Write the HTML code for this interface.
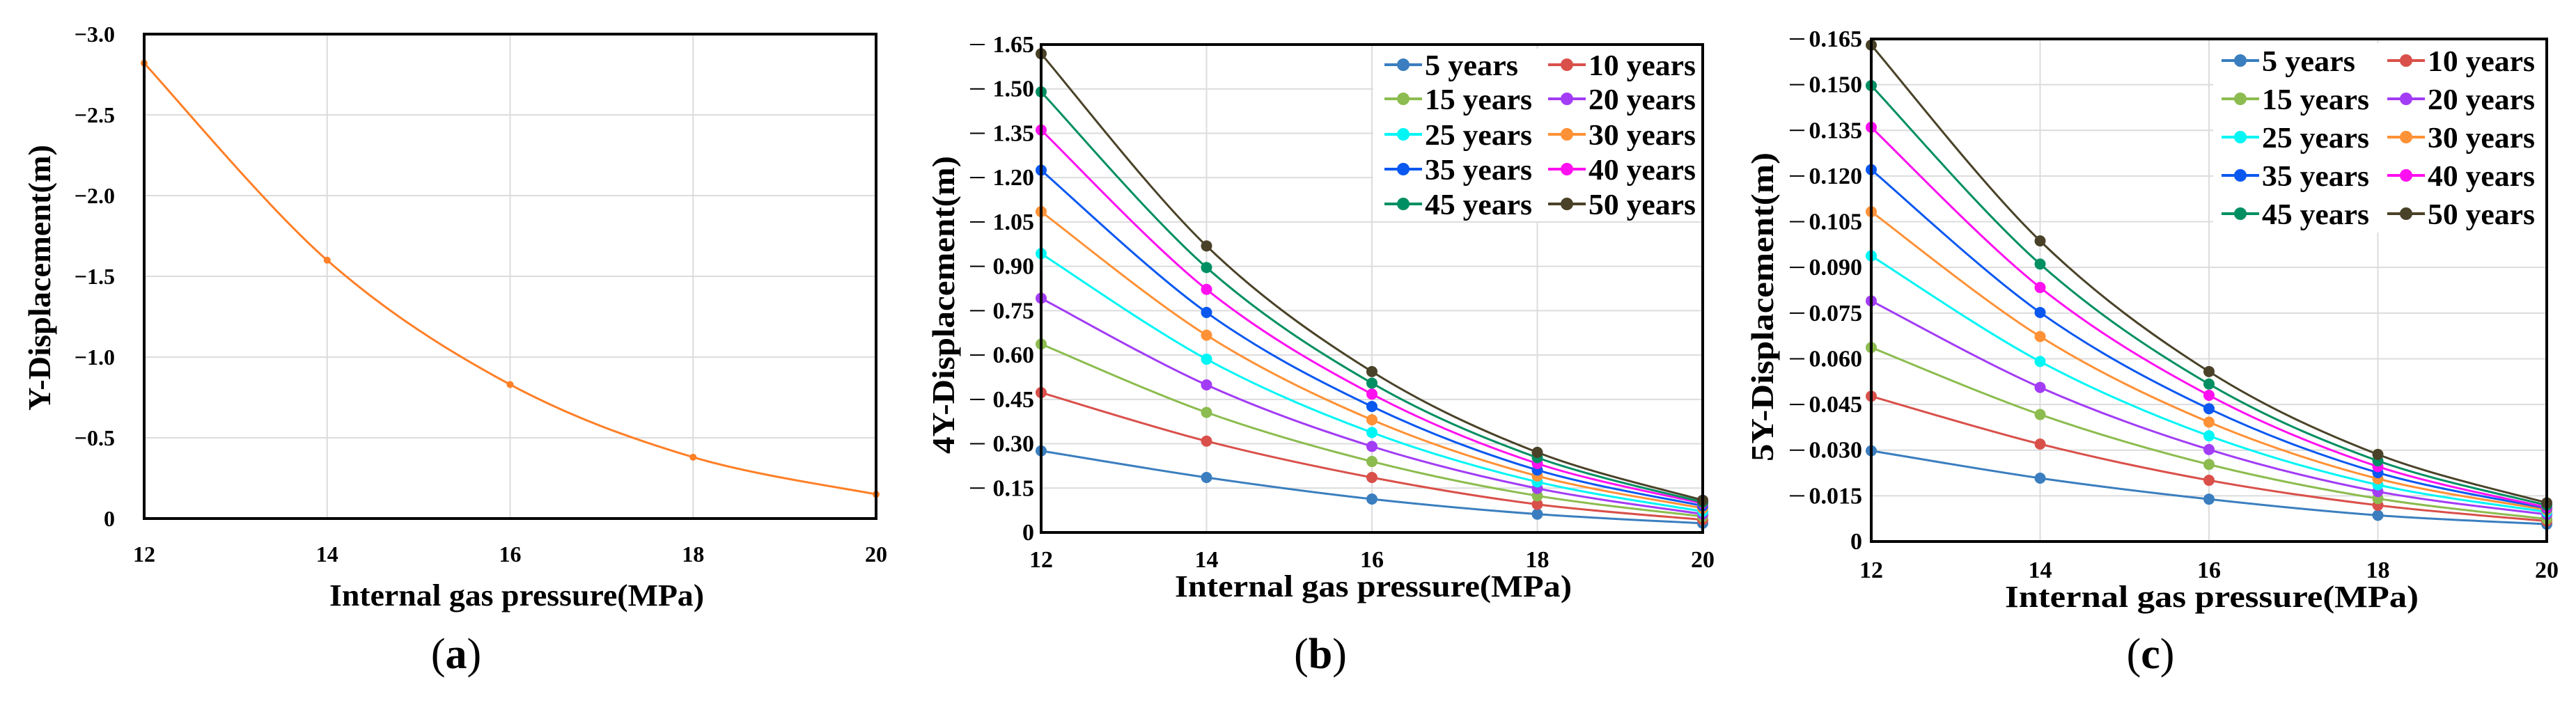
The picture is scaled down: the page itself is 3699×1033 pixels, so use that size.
<!DOCTYPE html>
<html><head><meta charset="utf-8"><style>
html,body{margin:0;padding:0;background:#fff;}
svg{display:block;font-family:"Liberation Serif",serif;}
</style></head><body>
<svg id="fig" width="3699" height="1033" viewBox="0 0 3699 1033" xmlns="http://www.w3.org/2000/svg"></svg>
<script>
const xCats = [12, 14, 16, 18, 20];
const aValues = [-2.82, -1.60, -0.83, -0.38, -0.15];
const aTicks = ["0", "\u22120.5", "\u22121.0", "\u22121.5", "\u22122.0", "\u22122.5", "\u22123.0"];
const seriesNames = ["5 years","10 years","15 years","20 years","25 years","30 years","35 years","40 years","45 years","50 years"];
const seriesColors = ["#3a7ebf","#d9504a","#8cbc4f","#a23cf5","#00f5f5","#ff9136","#0a58f0","#ff10f0","#008f62","#4a4228"];
const b5 = [0.276,0.186,0.113,0.062,0.031];
const b10 = [0.473,0.309,0.186,0.095,0.043];
const b15 = [0.637,0.406,0.240,0.124,0.054];
const b20 = [0.792,0.499,0.291,0.149,0.062];
const b25 = [0.943,0.586,0.338,0.171,0.071];
const b30 = [1.085,0.667,0.381,0.191,0.082];
const b35 = [1.225,0.744,0.426,0.211,0.090];
const b40 = [1.361,0.822,0.468,0.233,0.098];
const b45 = [1.490,0.896,0.505,0.253,0.102];
const b50 = [1.619,0.969,0.544,0.271,0.109];
const bTicks = ["0","0.15","0.30","0.45","0.60","0.75","0.90","1.05","1.20","1.35","1.50","1.65"];
const c5 = [0.0298,0.0208,0.0139,0.0086,0.0057];
const c10 = [0.0477,0.0320,0.0201,0.0119,0.0067];
const c15 = [0.0637,0.0417,0.0253,0.0141,0.0074];
const c20 = [0.0790,0.0506,0.0302,0.0164,0.0089];
const c25 = [0.0938,0.0591,0.0347,0.0186,0.0097];
const c30 = [0.1083,0.0673,0.0392,0.0206,0.0104];
const c35 = [0.1221,0.0752,0.0436,0.0226,0.0109];
const c40 = [0.1360,0.0834,0.0480,0.0246,0.0112];
const c45 = [0.1497,0.0911,0.0517,0.0265,0.0119];
const c50 = [0.1630,0.0987,0.0558,0.0286,0.0127];
const cTicks = ["0","0.015","0.030","0.045","0.060","0.075","0.090","0.105","0.120","0.135","0.150","0.165"];

const NS = "http://www.w3.org/2000/svg";
const svg = document.getElementById('fig');
function mk(tag, attrs, parent){const e=document.createElementNS(NS,tag);for(const k in attrs)e.setAttribute(k,attrs[k]);(parent||svg).appendChild(e);return e;}
function smooth(pts){
  let d="M"+pts[0][0]+","+pts[0][1];
  for(let i=0;i<pts.length-1;i++){
    const p0=pts[i-1]||pts[i],p1=pts[i],p2=pts[i+1],p3=pts[i+2]||p2;
    const c1=[p1[0]+(p2[0]-p0[0])/6,p1[1]+(p2[1]-p0[1])/6];
    const c2=[p2[0]-(p3[0]-p1[0])/6,p2[1]-(p3[1]-p1[1])/6];
    d+=" C"+c1[0]+","+c1[1]+" "+c2[0]+","+c2[1]+" "+p2[0]+","+p2[1];
  }
  return d;
}
function drawChart(o){
  const g=mk('g',{});
  
  
  const xs=v=>o.L+(v-xCats[0])/(xCats[xCats.length-1]-xCats[0])*(o.R-o.L);
  const ys=v=>o.B-(v/o.ymax)*(o.B-o.T);
  // gridlines
  const n=o.ticks.length-1;
  for(let i=1;i<=n;i++){const y=o.B-i*(o.B-o.T)/n;const l=mk('line',{x1:o.L,x2:o.R,y1:y,y2:y,stroke:'#dcdcdc','stroke-width':2},g);}
  for(let i=1;i<xCats.length-1;i++){const x=xs(xCats[i]);const l=mk('line',{x1:x,x2:x,y1:o.T,y2:o.B,stroke:'#dcdcdc','stroke-width':2},g);}
  // series
  o.series.forEach((vals,si)=>{
    const pts=vals.map((v,i)=>[xs(xCats[i]),ys(v*o.sign)]);
    const p=mk('path',{d:smooth(pts),fill:'none',stroke:o.colors[si],'stroke-width':o.lw},g);
    
    
    pts.forEach(pt=>{const c=mk('circle',{cx:pt[0],cy:pt[1],r:o.mr,fill:o.colors[si]},g);});
  });
  // frame
  const f=mk('rect',{x:o.L,y:o.T,width:o.R-o.L,height:o.B-o.T,fill:'none',stroke:'#000','stroke-width':4},g);
  
  // y ticks
  o.ticks.forEach((t,i)=>{
    const y=o.B-i*(o.B-o.T)/n;
    const tx=mk('text',{x:o.tickX,y:y+11,'text-anchor':'end','font-size':o.tfs,'font-weight':'bold'},g);
    tx.textContent=t;
    if(o.dash&&i>0){const d=mk('line',{x1:o.dash[0],x2:o.dash[1],y1:y,y2:y,stroke:'#000','stroke-width':2},g);}
  });
  xCats.forEach(v=>{const tx=mk('text',{x:xs(v),y:o.xtY,'text-anchor':'middle','font-size':o.tfs,'font-weight':'bold'},g);tx.textContent=v;});
  const xt=mk('text',{x:o.xtX,y:o.xtitleY,'text-anchor':'middle','font-size':44,'font-weight':'bold',textLength:o.xtLen,lengthAdjust:'spacingAndGlyphs'},g);
  xt.textContent='Internal gas pressure(MPa)';
  const yt=mk('text',{x:0,y:0,'text-anchor':'middle','font-size':46,'font-weight':'bold',textLength:o.ytLen,lengthAdjust:'spacingAndGlyphs',transform:'translate('+o.ytX+','+o.ytY+') rotate(-90)'},g);
  yt.textContent=o.ytitle;
  const pl=mk('text',{x:o.plX,y:960,'text-anchor':'middle','font-size':62},g);
  pl.innerHTML='(<tspan font-weight="bold">'+o.panel+'</tspan>)';
  if(o.labels){
    const lg=mk('g',{},g);
    const bg=mk('rect',{x:o.leg.x,y:o.leg.y,width:o.R-2-o.leg.x,height:o.leg.h,fill:'#fff'},lg);
    
    o.labels.forEach((lab,i)=>{
      const col=i%2,row=Math.floor(i/2);
      const y=o.leg.rows[row];const lx=o.leg.lines[col];
      const e=mk('g',{},lg);
      mk('line',{x1:lx,x2:lx+54,y1:y,y2:y,stroke:o.colors[i],'stroke-width':4},e);
      mk('circle',{cx:lx+27,cy:y,r:9,fill:o.colors[i]},e);
      const t=mk('text',{x:lx+58,y:y+15,'font-size':42,'font-weight':'bold',textLength:(lab.length===7?134:154),lengthAdjust:'spacingAndGlyphs'},e);
      t.textContent=lab;
    });
  }
}
drawChart({name:'chart-a',L:207,R:1258,T:49,B:745,ymax:3.0,sign:1,series:[aValues.map(v=>-v)],colors:['#ff7f27'],lw:3,mr:5,
  ticks:aTicks,tickX:165,tfs:32,xtY:807,xtX:742,xtitleY:870,xtLen:538,ytitle:'Y-Displacement(m)',ytX:72,ytY:399,ytLen:382,plX:655,panel:'a'});
drawChart({name:'chart-b',L:1495,R:2445,T:64,B:765,ymax:1.65,sign:1,series:[b5,b10,b15,b20,b25,b30,b35,b40,b45,b50],colors:seriesColors,lw:3,mr:8,
  ticks:bTicks,tickX:1485,tfs:34,dash:[1393,1414],xtY:815,xtX:1972,xtitleY:857,xtLen:570,ytitle:'4Y-Displacement(m)',ytX:1370,ytY:438,ytLen:428,plX:1896,panel:'b',
  labels:seriesNames,leg:{x:1972,y:70,h:248,rows:[93,142,193,243,293],lines:[1988,2223]}});
drawChart({name:'chart-c',L:2687,R:3657,T:56,B:778,ymax:0.165,sign:1,series:[c5,c10,c15,c20,c25,c30,c35,c40,c45,c50],colors:seriesColors,lw:3,mr:8,
  ticks:cTicks,tickX:2674,tfs:34,dash:[2570,2591],xtY:830,xtX:3176,xtitleY:872,xtLen:594,ytitle:'5Y-Displacement(m)',ytX:2546,ytY:441,ytLen:444,plX:3088,panel:'c',
  labels:seriesNames,leg:{x:3178,y:62,h:272,rows:[87,142,197,252,307],lines:[3190,3428]}});
</script>
</body></html>
